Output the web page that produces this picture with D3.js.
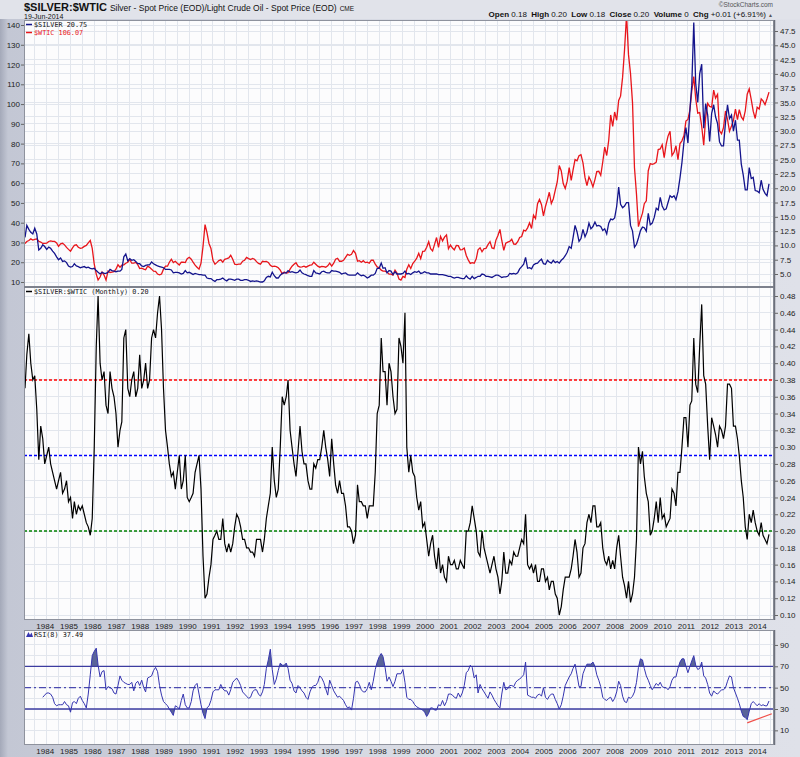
<!DOCTYPE html>
<html><head><meta charset="utf-8">
<script src="https://cdn.jsdelivr.net/npm/d3@7"></script>
<style>
body{margin:0;background:#d9dce5;}
svg{display:block;}
.ax text{font-family:"Liberation Sans",Arial,sans-serif;font-size:8px;fill:#222;}
.ax path{display:none;}
.ax line{stroke:#666;}
</style></head><body>
<svg id="c" width="800" height="757"></svg>
<script>
// ---------- DATA (monthly, Feb 1983 .. Jun 2014) ----------
const wtic = [
29.5,30.5,31.0,31.8,31.2,31.5,31.8,30.6,30.2,29.5,29.5,
29.7,30.5,30.8,30.6,30.5,29.8,28.0,29.3,29.6,28.8,27.5,26.5,
25.6,27.3,28.5,28.8,27.6,27.0,27.3,28.0,28.5,29.8,31.0,27.0,
19.0,14.0,11.0,12.5,15.0,13.5,11.0,15.5,14.8,15.0,15.2,16.5,
18.7,17.5,18.5,18.7,19.5,20.0,21.4,19.5,19.5,19.9,18.8,16.8,
17.0,16.5,16.2,18.0,17.4,16.5,15.5,15.4,14.0,13.6,14.0,16.5,
18.0,18.0,20.0,21.5,19.8,20.5,19.5,18.6,20.0,20.0,19.8,21.8,
22.5,21.5,20.0,18.5,17.5,16.5,19.5,28.0,39.0,35.0,29.5,27.0,
21.0,19.0,19.8,20.8,21.2,20.0,21.5,21.8,22.2,23.5,21.5,19.0,
18.8,19.0,19.0,20.5,21.0,22.4,21.8,21.4,21.9,21.5,20.3,19.4,
19.0,20.5,20.3,20.4,19.9,18.5,17.8,18.0,17.8,17.2,16.0,14.2,
15.0,14.5,14.7,16.5,18.0,19.0,19.8,18.0,17.5,17.7,18.0,17.5,
18.0,18.5,18.6,20.0,19.0,18.0,17.5,17.9,17.8,17.5,18.2,19.5,
18.0,19.5,21.5,22.0,20.5,20.5,21.0,22.5,24.0,23.5,24.0,25.9,
24.5,20.5,20.8,20.0,20.8,19.8,20.0,19.5,21.0,21.0,19.0,17.6,
17.2,16.0,15.5,15.5,15.0,14.0,14.0,13.5,16.0,14.5,11.5,11.0,
12.8,12.3,16.5,18.7,16.8,19.3,20.5,22.1,24.5,21.8,25.5,25.6,
27.6,30.4,26.9,25.7,29.0,32.5,27.5,33.1,30.8,32.7,33.8,26.8,
28.7,27.2,26.3,28.5,28.4,26.3,26.4,27.2,23.4,21.2,19.4,19.8,
19.5,21.7,26.3,27.3,25.3,26.9,27.0,28.9,30.4,27.2,26.9,31.2,
33.5,36.6,31.0,26.0,29.6,30.2,30.5,31.6,29.2,29.1,30.4,32.5,
33.0,36.2,35.8,37.4,39.9,37.1,43.8,42.1,49.6,51.8,49.1,43.5,
48.2,51.8,55.4,49.7,52.0,56.5,60.6,68.9,66.2,59.8,57.3,61.0,
67.9,61.4,66.6,71.9,71.3,73.9,74.4,70.3,62.9,58.7,63.1,61.1,
58.1,61.8,65.9,66.0,64.0,70.7,78.2,74.0,81.7,94.5,88.7,96.0,
91.8,101.8,104.0,113.5,127.4,145.0,125.0,115.5,100.6,67.8,54.4,38.0,
41.7,44.8,49.6,51.1,66.3,69.9,69.5,69.9,70.6,77.0,77.3,79.4,
72.9,79.7,83.8,86.2,74.0,75.6,78.9,71.9,80.0,81.4,84.1,91.4,
92.2,97.0,106.7,113.9,102.7,95.4,95.7,88.8,79.2,93.2,100.4,98.8,
98.5,107.1,103.0,104.9,86.5,85.0,88.1,96.5,92.2,86.2,88.9,91.8,
97.5,92.1,97.2,93.5,92.0,96.6,105.0,107.7,102.3,96.4,92.7,98.4,
97.5,102.6,101.6,99.7,102.7,106.07];

const silver = [
11.4,13.5,12.8,12.3,12.0,13.0,12.0,9.2,9.5,10.1,9.8,
9.3,9.7,9.5,9.0,8.6,8.0,7.5,7.8,7.2,7.3,7.0,6.4,
6.2,6.3,6.8,6.4,6.3,6.1,6.2,6.3,6.1,6.2,6.0,5.9,
6.0,5.6,5.3,5.0,5.3,5.1,5.1,5.3,5.8,5.6,5.5,5.4,
5.5,5.5,5.8,8.0,8.5,7.3,7.7,7.4,7.5,7.2,6.8,6.8,
6.4,6.3,6.5,6.6,6.6,7.1,6.8,6.6,6.4,6.3,6.2,6.1,
5.8,5.8,5.8,5.7,5.2,5.3,5.3,5.2,5.0,5.1,5.6,5.2,
5.3,5.1,4.9,5.1,5.0,4.9,4.9,4.8,4.8,4.3,4.2,4.2,
3.9,3.7,4.0,4.0,4.1,4.3,4.0,3.8,4.1,4.1,4.0,3.9,
4.1,4.1,3.9,3.9,4.0,4.0,3.9,3.7,3.8,3.7,3.8,3.7,
3.6,3.6,3.8,4.4,4.6,4.5,5.3,4.7,4.3,4.3,4.8,5.1,
5.2,5.2,5.6,5.3,5.4,5.3,5.2,5.3,5.7,5.2,5.0,4.9,
4.7,4.6,4.6,5.6,5.2,5.1,5.0,5.4,5.5,5.3,5.2,5.2,
5.6,5.5,5.5,5.4,5.3,5.0,5.1,5.2,4.9,4.8,4.8,4.8,
4.8,5.2,4.9,4.7,4.8,4.6,4.3,4.5,4.8,4.8,5.1,6.0,
6.0,6.9,6.0,6.1,5.2,5.6,5.5,4.9,5.4,5.0,5.0,5.0,
5.1,5.5,5.0,5.1,4.9,5.2,5.4,5.3,5.5,5.1,5.2,5.4,
5.2,5.2,5.0,5.0,5.0,5.0,4.9,4.9,4.9,4.8,4.7,4.6,
4.6,4.4,4.3,4.4,4.4,4.3,4.2,4.2,4.7,4.3,4.1,4.6,
4.2,4.4,4.6,4.6,5.0,4.9,4.6,4.6,4.5,4.4,4.6,4.8,
4.8,4.6,4.4,4.5,4.5,4.6,5.1,5.0,5.1,5.0,5.2,5.9,
6.3,6.7,7.9,6.0,6.1,5.9,6.6,6.8,6.9,7.3,7.6,6.8,
6.7,7.4,7.1,6.9,7.4,7.0,7.2,6.9,7.4,7.7,8.2,8.8,
9.8,9.5,11.3,13.5,12.4,10.7,11.2,12.8,11.5,12.3,13.9,12.9,
13.3,14.1,13.4,13.5,13.3,12.6,12.9,12.0,13.9,14.6,14.5,14.8,
16.8,20.2,17.2,16.6,16.9,17.5,17.5,13.5,12.5,9.7,10.2,11.3,
12.6,13.2,13.1,12.5,15.6,13.6,13.9,14.9,16.5,16.2,18.4,16.9,
16.2,16.4,17.5,18.7,18.4,18.7,18.0,19.4,21.8,24.5,28.1,30.6,
27.9,33.8,37.9,49.0,38.3,35.0,40.0,41.7,30.5,34.8,32.8,28.2,
33.1,34.6,32.5,31.3,28.1,27.4,27.4,31.5,34.6,32.2,32.8,30.0,
31.9,28.4,28.4,24.2,22.3,19.7,19.7,23.6,21.7,21.9,19.6,19.5,
19.2,21.4,19.8,19.1,18.7,20.75];

const ratio = [
0.37,0.41,0.435,0.40,0.38,0.385,0.345,0.285,0.325,0.31,0.28,
0.29,0.30,0.28,0.27,0.26,0.25,0.26,0.27,0.245,0.25,0.26,0.235,
0.24,0.215,0.235,0.22,0.23,0.225,0.23,0.22,0.21,0.205,0.195,0.215,
0.30,0.42,0.48,0.40,0.38,0.39,0.35,0.34,0.39,0.37,0.36,0.34,
0.30,0.32,0.33,0.43,0.44,0.37,0.36,0.38,0.39,0.36,0.37,0.41,
0.37,0.38,0.40,0.37,0.38,0.43,0.44,0.43,0.46,0.48,0.44,0.37,
0.32,0.30,0.28,0.265,0.27,0.25,0.27,0.29,0.25,0.26,0.29,0.24,
0.235,0.24,0.245,0.27,0.28,0.29,0.25,0.17,0.12,0.125,0.145,0.16,
0.19,0.195,0.20,0.19,0.19,0.215,0.185,0.175,0.185,0.175,0.185,0.205,
0.22,0.215,0.205,0.19,0.19,0.18,0.18,0.175,0.175,0.17,0.19,0.19,
0.19,0.175,0.19,0.215,0.23,0.245,0.30,0.26,0.24,0.25,0.30,0.36,
0.35,0.36,0.38,0.32,0.30,0.28,0.265,0.295,0.325,0.295,0.28,0.28,
0.26,0.25,0.25,0.28,0.275,0.285,0.285,0.30,0.32,0.30,0.285,0.265,
0.31,0.28,0.255,0.245,0.26,0.245,0.245,0.23,0.205,0.205,0.20,0.185,
0.195,0.255,0.235,0.235,0.23,0.23,0.215,0.23,0.23,0.23,0.27,0.34,
0.35,0.43,0.39,0.39,0.35,0.40,0.39,0.36,0.34,0.345,0.43,0.42,
0.40,0.46,0.30,0.27,0.29,0.27,0.265,0.24,0.225,0.235,0.205,0.21,
0.19,0.17,0.185,0.195,0.17,0.155,0.18,0.15,0.16,0.145,0.14,0.17,
0.16,0.16,0.165,0.155,0.155,0.165,0.16,0.155,0.20,0.20,0.21,0.23,
0.215,0.20,0.175,0.17,0.20,0.18,0.17,0.16,0.15,0.16,0.17,0.155,
0.145,0.125,0.14,0.175,0.15,0.15,0.165,0.16,0.175,0.17,0.17,0.18,
0.19,0.185,0.22,0.16,0.155,0.16,0.15,0.16,0.14,0.14,0.155,0.155,
0.14,0.145,0.13,0.14,0.14,0.125,0.12,0.10,0.11,0.13,0.145,0.145,
0.145,0.155,0.17,0.19,0.175,0.145,0.15,0.18,0.185,0.21,0.22,0.21,
0.23,0.23,0.205,0.205,0.21,0.18,0.165,0.16,0.17,0.155,0.165,0.155,
0.18,0.195,0.17,0.145,0.135,0.12,0.14,0.115,0.125,0.145,0.19,0.30,
0.28,0.295,0.265,0.245,0.235,0.195,0.20,0.215,0.235,0.21,0.24,0.215,
0.22,0.205,0.21,0.215,0.25,0.245,0.23,0.27,0.27,0.30,0.335,0.335,
0.30,0.35,0.355,0.43,0.375,0.365,0.42,0.47,0.385,0.375,0.325,0.285,
0.335,0.325,0.315,0.30,0.325,0.32,0.31,0.325,0.375,0.375,0.37,0.325,
0.325,0.31,0.29,0.26,0.24,0.205,0.19,0.22,0.21,0.225,0.21,0.20,
0.195,0.21,0.195,0.19,0.185,0.196];

// RSI(8) values, starting Nov 1983 (9 months after the first ratio value)
const rsiOffset = 9;
const rsi = [
41,43,45,
45,44,41,35,33,34,34,34,37,34,33,27,
36,37,35,40,42,38,35,31,44,62,80,84,
87,71,60,65,66,48,51,50,49,45,44,52,
61,57,55,54,53,53,55,47,54,56,52,57,
50,46,59,60,61,66,69,65,52,43,37,35,
33,30,27,24,33,32,30,38,44,34,31,31,
37,47,52,54,44,34,26,21,31,33,38,46,
48,48,48,53,49,47,47,43,48,55,57,59,
56,52,46,44,42,40,41,46,48,48,44,42,
46,53,68,76,86,67,53,58,66,73,71,71,
73,68,57,54,47,45,52,50,47,45,41,39,
46,50,52,52,55,61,59,55,49,43,57,52,
47,44,41,42,40,38,34,31,32,29,40,55,
56,53,48,46,46,49,55,48,56,67,74,79,
82,79,69,56,60,56,51,56,63,63,63,67,
55,41,39,39,37,34,32,31,30,29,27,23,
26,31,31,29,29,34,33,38,33,37,44,44,
43,41,40,45,41,45,52,64,66,71,69,59,
62,45,53,49,46,43,40,46,43,39,36,33,
31,44,55,48,49,52,52,51,55,57,58,60,
62,74,43,42,41,41,40,43,44,42,50,41,
39,42,44,44,39,35,30,34,42,52,56,60,
63,68,72,62,51,51,63,68,72,72,72,74,
70,62,57,51,41,39,38,40,41,37,40,46,
56,52,42,37,36,41,40,42,46,55,69,77,
76,68,61,57,52,48,51,54,52,55,51,50,
50,48,51,57,60,60,68,74,77,77,70,64,
70,75,80,71,67,68,74,61,59,53,45,42,
47,45,44,46,48,48,50,56,61,60,50,45,
40,35,28,23,22,20,28,35,37,35,33,35,
33,34,33,33,37.49];

const ratioLevels = [
  {v:0.38, c:"#ff0000"},
  {v:0.29, c:"#0000ff"},
  {v:0.20, c:"#008000"}];
const rsiTrend = [{d:new Date(2013,6,1), v:17},{d:new Date(2014,6,15), v:25.5}];

const leftTicks = d3.range(10,141,10);
const rightTicks = d3.range(5,47.6,2.5);
const ratioTicks = d3.range(0.10,0.481,0.02).map(v=>+v.toFixed(2));
const rsiTicks = [10,30,50,70,90];
const years = d3.range(1984,2015);

// ---------- LAYOUT ----------
const svg = d3.select("#c");
const PL=24, PR=774;
const P1={t:20,b:287}, P2={t:287,b:620}, P3={t:630,b:745};
const start = new Date(1983,1,1);
const dates = d3.range(ratio.length).map(i=>d3.timeMonth.offset(start,i));
const x = d3.scaleTime().domain([start,new Date(2014,5,1)]).range([25,769]);
const yL = d3.scaleLinear().domain([10,140]).range([282,25]);
const yR = d3.scaleLinear().domain([5,47.5]).range([274,31]);
const yM = d3.scaleLinear().domain([0.10,0.48]).range([615,296]);
const yS = d3.scaleLinear().domain([30,70]).range([709,666.3]);

const defs = svg.append("defs");
const g1 = defs.append("linearGradient").attr("id","lg").attr("x1",0).attr("x2",1).attr("y1",0).attr("y2",0);
g1.append("stop").attr("offset","0").attr("stop-color","#a4a9b9");
g1.append("stop").attr("offset","0.01").attr("stop-color","#c3c7d4");
g1.append("stop").attr("offset","0.5").attr("stop-color","#d8dbe4");
g1.append("stop").attr("offset","1").attr("stop-color","#dfe1e9");
svg.append("rect").attr("width",800).attr("height",757).attr("fill","url(#lg)");
svg.append("rect").attr("x",0).attr("y",0).attr("width",800).attr("height",19).attr("fill","#e1e3ea");

[P1,P2,P3].forEach((p,i)=>{
  defs.append("clipPath").attr("id","cp"+i).append("rect")
    .attr("x",PL).attr("y",p.t).attr("width",PR-PL).attr("height",p.b-p.t);
  svg.append("rect").attr("x",PL).attr("y",p.t).attr("width",PR-PL).attr("height",p.b-p.t)
    .attr("fill","#fcfcfd");
});

// grid
const gridDates = d3.timeMonth.every(6).range(new Date(1983,6,1), new Date(2014,7,1));
const grid = svg.append("g").attr("stroke","#e2e6ed").attr("stroke-width",1).attr("shape-rendering","crispEdges");
[P1,P2,P3].forEach(p=>{
  grid.selectAll(null).data(gridDates).enter().append("line")
    .attr("x1",d=>x(d)).attr("x2",d=>x(d)).attr("y1",p.t).attr("y2",p.b);
});
grid.selectAll(null).data(leftTicks).enter().append("line")
  .attr("x1",PL).attr("x2",PR).attr("y1",d=>yL(d)).attr("y2",d=>yL(d));
grid.selectAll(null).data(rightTicks).enter().append("line")
  .attr("x1",PL).attr("x2",PR).attr("y1",d=>yR(d)).attr("y2",d=>yR(d));
grid.selectAll(null).data(ratioTicks).enter().append("line")
  .attr("x1",PL).attr("x2",PR).attr("y1",d=>yM(d)).attr("y2",d=>yM(d));
grid.selectAll(null).data(d3.range(10,91,10)).enter().append("line")
  .attr("x1",PL).attr("x2",PR).attr("y1",d=>yS(d)).attr("y2",d=>yS(d));

// ---------- PANEL 1 ----------
const c1 = svg.append("g").attr("clip-path","url(#cp0)");
c1.append("path").datum(wtic).attr("fill","none").attr("stroke","#e8151b").attr("stroke-width",1.3)
  .attr("d",d3.line().x((d,i)=>x(dates[i])).y(d=>yL(d)));
c1.append("path").datum(silver).attr("fill","none").attr("stroke","#14148c").attr("stroke-width",1.3)
  .attr("d",d3.line().x((d,i)=>x(dates[i])).y(d=>yR(d)));

// ---------- PANEL 2 ----------
const c2 = svg.append("g").attr("clip-path","url(#cp1)");
c2.selectAll(null).data(ratioLevels).enter().append("line")
  .attr("x1",PL).attr("x2",PR).attr("y1",d=>yM(d.v)).attr("y2",d=>yM(d.v))
  .attr("stroke",d=>d.c).attr("stroke-width",1.4).attr("stroke-dasharray","3,2");
c2.append("path").datum(ratio).attr("fill","none").attr("stroke","#000").attr("stroke-width",1.2)
  .attr("d",d3.line().x((d,i)=>x(dates[i])).y(d=>yM(d)));

// ---------- PANEL 3 (RSI) ----------
const rx = (d,i)=>x(dates[i+rsiOffset]);
defs.append("clipPath").attr("id","above").append("rect")
  .attr("x",PL).attr("y",P3.t).attr("width",PR-PL).attr("height",yS(70)-P3.t);
defs.append("clipPath").attr("id","below").append("rect")
  .attr("x",PL).attr("y",yS(30)).attr("width",PR-PL).attr("height",P3.b-yS(30));
svg.append("path").datum(rsi).attr("clip-path","url(#above)").attr("fill","#5a6499")
  .attr("d",d3.area().x(rx).y0(yS(70)).y1(d=>yS(d)));
svg.append("path").datum(rsi).attr("clip-path","url(#below)").attr("fill","#5a6499")
  .attr("d",d3.area().x(rx).y0(yS(30)).y1(d=>yS(d)));
const c3 = svg.append("g").attr("clip-path","url(#cp2)");
[70,30].forEach(v=>c3.append("line").attr("x1",PL).attr("x2",PR).attr("y1",yS(v)).attr("y2",yS(v))
  .attr("stroke","#3c3ca0").attr("stroke-width",1.3));
c3.append("line").attr("x1",PL).attr("x2",PR).attr("y1",yS(50)).attr("y2",yS(50))
  .attr("stroke","#4a4ab0").attr("stroke-width",1.2).attr("stroke-dasharray","7,3,2,3");
c3.append("path").datum(rsi).attr("fill","none").attr("stroke","#3535b0").attr("stroke-width",1)
  .attr("d",d3.line().x(rx).y(d=>yS(d)));
c3.append("path").datum(rsiTrend).attr("fill","none").attr("stroke","#f0504a").attr("stroke-width",1.2)
  .attr("d",d3.line().x(d=>x(d.d)).y(d=>yS(d.v)));

// panel borders
[P1,P2,P3].forEach(p=>{
  svg.append("rect").attr("x",PL+0.5).attr("y",p.t+0.5).attr("width",PR-PL-1).attr("height",p.b-p.t-1)
    .attr("fill","none").attr("stroke","#8e929d").attr("shape-rendering","crispEdges");
  svg.append("line").attr("x1",PR+0.5).attr("x2",PR+0.5).attr("y1",p.t).attr("y2",p.b)
    .attr("stroke","#6d717c").attr("stroke-width",1.5);
});
svg.append("line").attr("x1",PL).attr("x2",PR).attr("y1",P1.b).attr("y2",P1.b).attr("stroke","#6d717c").attr("stroke-width",1);

// ---------- AXES ----------
svg.append("g").attr("class","ax").attr("transform",`translate(${PL},0)`)
  .call(d3.axisLeft(yL).tickValues(leftTicks).tickSize(3).tickPadding(1).tickFormat(d3.format("d")));
svg.append("g").attr("class","ax").attr("transform",`translate(${PR+1},0)`)
  .call(d3.axisRight(yR).tickValues(rightTicks).tickSize(3).tickPadding(2).tickFormat(d3.format(".1f")));
svg.append("g").attr("class","ax").attr("transform",`translate(${PR+1},0)`)
  .call(d3.axisRight(yM).tickValues(ratioTicks).tickSize(3).tickPadding(2).tickFormat(d3.format(".2f")));
svg.append("g").attr("class","ax").attr("transform",`translate(${PR+1},0)`)
  .call(d3.axisRight(yS).tickValues(rsiTicks).tickSize(3).tickPadding(2).tickFormat(d3.format("d")));
const yearDates = years.map(y=>new Date(y,0,1));
[P2.b, P3.b].forEach(yy=>{
  svg.append("g").attr("class","ax").attr("transform",`translate(-2,${yy+1})`)
    .call(d3.axisBottom(x).tickValues(yearDates).tickSize(0).tickPadding(2).tickFormat(d3.timeFormat("%Y")));
});

// ---------- TEXTS ----------
const ff = '"Liberation Sans",Arial,sans-serif';
const t = svg.append("text").attr("x",24).attr("y",10.5).attr("font-family",ff).attr("fill","#111");
t.append("tspan").attr("font-weight","bold").attr("font-size","11px").text("$SILVER:$WTIC");
t.append("tspan").attr("font-size","8.5px").attr("dx",3).text("Silver - Spot Price (EOD)/Light Crude Oil - Spot Price (EOD)");
t.append("tspan").attr("font-size","6.5px").attr("dx",3).text("CME");
svg.append("text").attr("x",24).attr("y",19).attr("font-family",ff).attr("font-size","7px").attr("fill","#111").text("19-Jun-2014");
svg.append("text").attr("x",773).attr("y",7).attr("text-anchor","end").attr("font-family",ff).attr("font-size","6.5px").attr("fill","#555").text("\u00A9StockCharts.com");
const o = svg.append("text").attr("x",766).attr("y",17).attr("text-anchor","end").attr("font-family",ff).attr("font-size","8px").attr("fill","#111");
[["Open"," 0.18  "],["High"," 0.20  "],["Low"," 0.18  "],["Close"," 0.20  "],["Volume"," 0  "],["Chg"," +0.01 (+6.91%)"]].forEach(([a,b])=>{
  o.append("tspan").attr("font-weight","bold").text(a);
  o.append("tspan").style("white-space","pre").text(b);
});
svg.append("text").attr("x",768).attr("y",17).attr("font-size","5px").attr("fill","#555").text("\u25B2");

const mono = '"DejaVu Sans Mono","Liberation Mono",monospace';
function legend(yy, col, txt, tcol){
  svg.append("line").attr("x1",26).attr("x2",32).attr("y1",yy).attr("y2",yy).attr("stroke",col).attr("stroke-width",1.5);
  svg.append("text").attr("x",34).attr("y",yy+2.3).attr("font-family",mono).attr("font-size","6.8px").attr("fill",tcol).text(txt);
}
legend(24.5,"#14148c","$SILVER 20.75","#111");
legend(32.5,"#e8151b","$WTIC 106.07","#e8151b");
legend(291.5,"#000","$SILVER:$WTIC (Monthly) 0.20","#111");
svg.append("path").attr("d","M26,637 L28.5,632 L30,635 L31.5,632.5 L33,637 Z").attr("fill","#3535b0");
svg.append("text").attr("x",34).attr("y",637.3).attr("font-family",mono).attr("font-size","6.8px").attr("fill","#111").text("RSI(8) 37.49");
</script>
</body></html>
